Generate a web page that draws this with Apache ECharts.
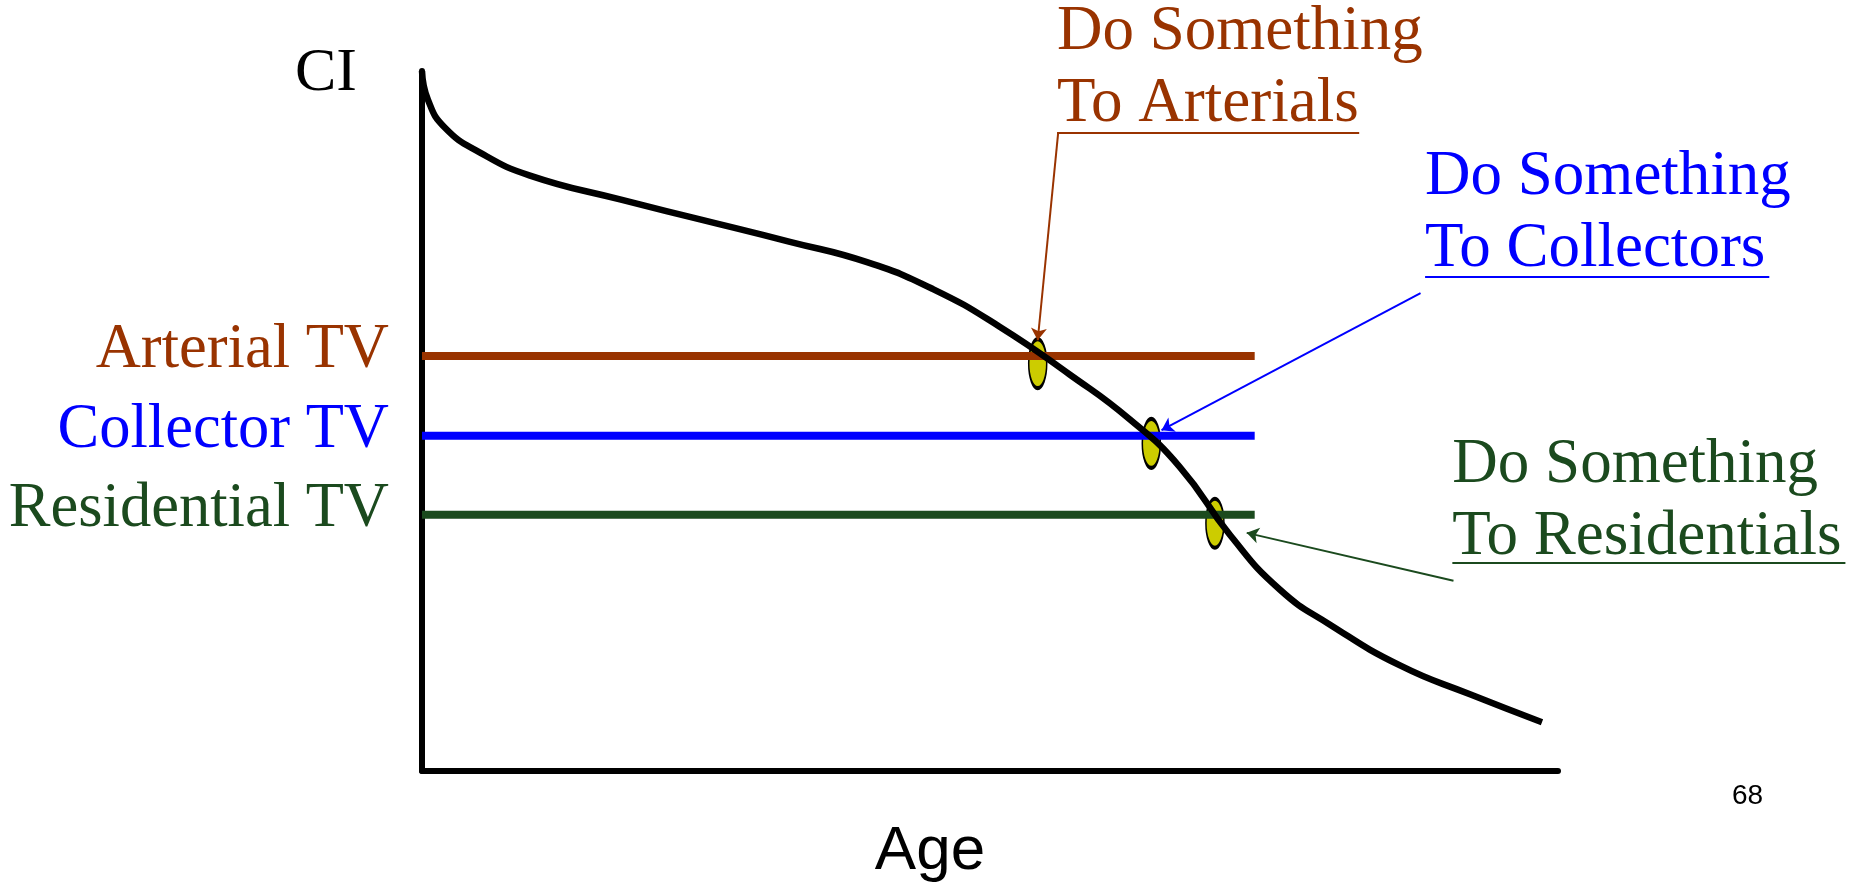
<!DOCTYPE html>
<html>
<head>
<meta charset="utf-8">
<title>CI vs Age</title>
<script src="https://cdn.jsdelivr.net/npm/echarts@6/dist/echarts.min.js"></script>
<style>
  html, body { margin: 0; padding: 0; background: #fff; }
  #container { width: 1854px; height: 888px; }
</style>
</head>
<body>
<div id="container"></div>
<script>
  // condition index curve (age 0..100, CI 0..100)
  var curveAge = [0, 0.53, 2.02, 5.11, 9.51, 17.43, 24.47, 32.39, 39.17, 44.98, 50.88, 57.04, 62.32, 66.73, 71.13, 75.53, 79.93, 86.09, 92.25, 98.59];
  var curveCI = [100, 95.87, 91.89, 88.34, 85.06, 81.65, 78.81, 75.6, 72.69, 68.85, 63.44, 56.61, 50.21, 43.39, 33.71, 25.89, 20.91, 15.08, 10.95, 6.97];

  // trigger values
  var tvNames = ['Arterial TV', 'Collector TV', 'Residential TV'];
  var tvLevels = [59.3, 47.9, 36.6];
  var tvEndAge = 73.3;
  var tvColors = ['#993300', '#0000ff', '#1b4a1e'];

  // where the curve hits each trigger value
  var hitAge = [54.2, 64.2, 69.8];
  var hitCI = [58.2, 46.8, 35.4];

  // callouts
  var noteLines = [['Do Something', 'To Arterials'], ['Do Something', 'To Collectors'], ['Do Something', 'To Residentials']];
  var noteAge = [55.9, 88.3, 90.7];
  var noteCI = [100.4, 79.8, 38.8];
  var underlineEndAge = [82.5, 118.6, 125.3];
  var underlineCI = [91.2, 70.8, 30.0];
  var arrowFrom = [[56.0, 91.2], [87.9, 68.4], [90.8, 27.5]];
  var arrowTo = [[54.2, 61.7], [65.1, 48.9], [72.6, 34.3]];

  var W = 1854, H = 888;
  var gl = 422, gt = 71, gr = 296, gb = 114;
  var plotW = W - gl - gr, plotH = H - gt - gb;
  var serif = 'Liberation Serif';
  var sans = 'Liberation Sans';
  var ellipse = 'path://M50,0 A50,50 0 1,1 50,100 A50,50 0 1,1 50,0 Z';

  var myChart = echarts.init(document.getElementById('container'));

  var series = [];
  tvNames.forEach(function (name, i) {
    series.push({
      name: name,
      type: 'line',
      symbol: 'circle',
      symbolSize: 0,
      lineStyle: { color: tvColors[i], width: 8 },
      itemStyle: { color: tvColors[i] },
      label: {
        position: 'left',
        distance: 33,
        offset: [0, -5],
        color: tvColors[i],
        fontFamily: serif,
        fontSize: 62.5
      },
      data: [
        { value: [0, tvLevels[i]], label: { show: true, formatter: name } },
        [tvEndAge, tvLevels[i]]
      ]
    });
  });

  series.push({
    name: 'CI',
    type: 'line',
    smooth: 0.5,
    showSymbol: false,
    lineStyle: { color: '#000', width: 6.5, join: 'round' },
    data: curveAge.map(function (a, i) { return [a, curveCI[i]]; })
  });

  series.push({
    name: 'hits',
    type: 'scatter',
    symbol: ellipse,
    symbolSize: [18, 49],
    itemStyle: { color: '#cccc00', borderColor: '#000', borderWidth: 2.5, opacity: 1 },
    data: hitAge.map(function (a, i) { return [a, hitCI[i]]; })
  });

  noteLines.forEach(function (lines, i) {
    series.push({
      name: 'note' + i,
      type: 'scatter',
      xAxisIndex: 1,
      yAxisIndex: 1,
      symbolSize: 0,
      itemStyle: { opacity: 1 },
      label: {
        show: true,
        position: 'right',
        distance: 0,
        formatter: lines.join('\n'),
        color: tvColors[i],
        opacity: 1,
        fontFamily: serif,
        fontSize: 63,
        lineHeight: 72
      },
      markLine: {
        silent: true,
        animation: false,
        symbol: ['none', 'none'],
        symbolSize: [0, 12],
        label: { show: false },
        lineStyle: { color: tvColors[i], width: 2, type: 'solid', opacity: 1 },
        data: [
          [{ coord: arrowFrom[i] }, { coord: arrowTo[i], symbol: 'arrow', symbolSize: [12, 12] }],
          [{ coord: [noteAge[i], underlineCI[i]] }, { coord: [underlineEndAge[i], underlineCI[i]] }]
        ]
      },
      data: [[noteAge[i], noteCI[i]]]
    });
  });

  var option = {
    animation: false,
    backgroundColor: '#fff',
    title: {
      text: '68',
      left: 1727,
      top: 777,
      textStyle: { fontFamily: sans, fontSize: 28, fontWeight: 'normal', color: '#000' }
    },
    grid: [
      { left: gl, top: gt, right: gr, bottom: gb },
      { left: 0, top: 0, right: 0, bottom: 0 }
    ],
    xAxis: [
      {
        type: 'value', min: 0, max: 100,
        name: 'Age', nameLocation: 'middle', nameGap: 81,
        nameTextStyle: { fontFamily: sans, fontSize: 62, color: '#000', verticalAlign: 'middle', padding: [0, 120, 0, 0] },
        axisLine: { show: true, onZero: false, lineStyle: { color: '#000', width: 6 } },
        axisTick: { show: false }, axisLabel: { show: false }, splitLine: { show: false }
      },
      {
        type: 'value', gridIndex: 1, show: false,
        min: -100 * gl / plotW, max: 100 + 100 * gr / plotW
      }
    ],
    yAxis: [
      {
        type: 'value', min: 0, max: 100,
        name: 'CI', nameLocation: 'end', nameGap: -3,
        nameTextStyle: { fontFamily: serif, fontSize: 62, color: '#000', align: 'right', verticalAlign: 'middle', padding: [0, 65, 0, 0] },
        axisLine: { show: true, onZero: false, lineStyle: { color: '#000', width: 6 } },
        axisTick: { show: false }, axisLabel: { show: false }, splitLine: { show: false }
      },
      {
        type: 'value', gridIndex: 1, show: false,
        min: -100 * gb / plotH, max: 100 + 100 * gt / plotH
      }
    ],
    series: series
  };

  myChart.setOption(option);
</script>
</body>
</html>
